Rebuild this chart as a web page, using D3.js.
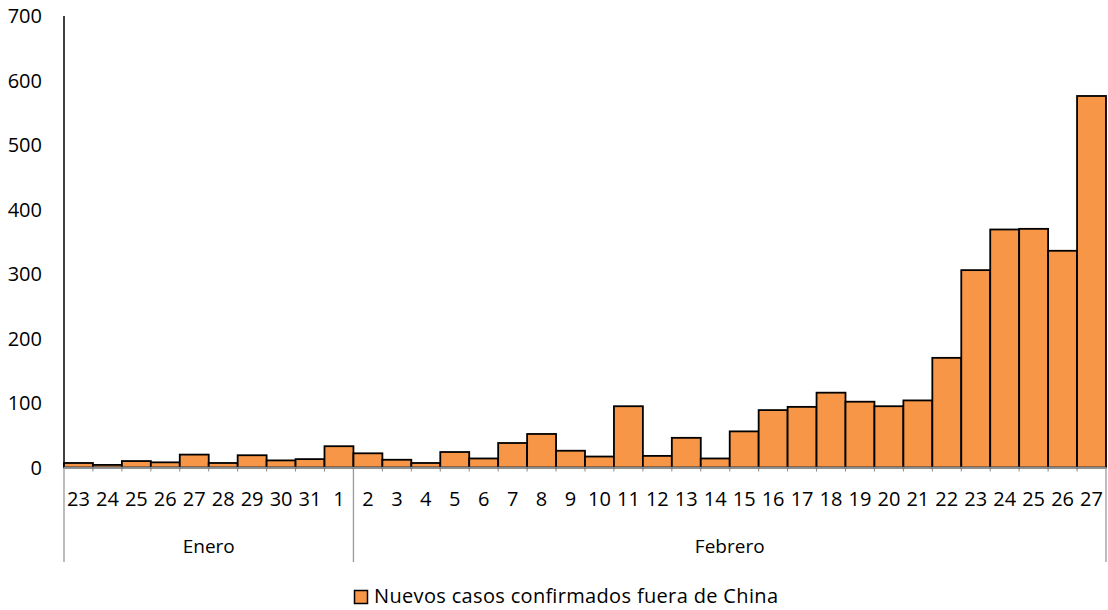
<!DOCTYPE html>
<html><head><meta charset="utf-8">
<script src="https://cdn.jsdelivr.net/npm/d3@7"></script>
<style>body{margin:0;background:#fff}svg{display:block}text{font-family:"Open Sans",sans-serif;fill:#000}</style>
</head><body>
<svg id="c" width="1108" height="610"></svg>
<script>
const days = ["23","24","25","26","27","28","29","30","31","1","2","3","4","5","6","7","8","9","10","11","12","13","14","15","16","17","18","19","20","21","22","23","24","25","26","27"];
const cases = [7,4,10,8,20,7,19,11,13,33,22,12,7,24,14,38,52,26,17,95,18,46,14,56,89,94,116,102,95,104,170,306,369,370,336,576];
const months = ["Enero","Febrero"];
const monthSpan = [10,26];
const yTicks = [0,100,200,300,400,500,600,700];
const seriesName = "Nuevos casos confirmados fuera de China";

const svg = d3.select("#c");
const L=64, R=1106, T=16, B=467.5;
const keys = days.map((d,i)=>i);
const x = d3.scaleBand().domain(keys).range([L,R]).padding(0);
const y = d3.scaleLinear().domain([0,700]).range([B,T]);

// y axis
svg.append("line").attr("x1",L).attr("x2",L).attr("y1",T).attr("y2",B).attr("stroke","#000").attr("stroke-width",1.5);
svg.selectAll(".yl").data(yTicks).enter().append("text")
  .attr("x",42).attr("y",d=>y(d)).attr("dy","0.36em").attr("text-anchor","end")
  .style("font-size","20px").text(d=>d);

// bars
svg.selectAll(".bar").data(cases).enter().append("rect")
  .attr("x",(d,i)=>x(i)).attr("width",x.bandwidth())
  .attr("y",d=>y(d)).attr("height",d=>B-y(d))
  .attr("fill","#F79646").attr("stroke","#000").attr("stroke-width",1.8);

// x axis baseline
svg.append("line").attr("x1",L).attr("x2",R).attr("y1",B).attr("y2",B).attr("stroke","#888").attr("stroke-width",1.5);
// minor ticks
svg.selectAll(".tk").data(d3.range(1,36)).enter().append("line")
  .attr("x1",i=>x(i)).attr("x2",i=>x(i)).attr("y1",B).attr("y2",B+4).attr("stroke","#888").attr("stroke-width",1);
// day labels
svg.selectAll(".xl").data(days).enter().append("text")
  .attr("x",(d,i)=>x(i)+x.bandwidth()/2).attr("y",506).attr("text-anchor","middle")
  .style("font-size","20px").text(d=>d);
// month groups
let acc=0; const bounds=[0];
monthSpan.forEach(s=>{acc+=s;bounds.push(acc);});
svg.selectAll(".sep").data(bounds).enter().append("line")
  .attr("x1",b=>b===36?R:x(b)).attr("x2",b=>b===36?R:x(b)).attr("y1",B).attr("y2",562)
  .attr("stroke","#999").attr("stroke-width",1.3);
svg.selectAll(".ml").data(months).enter().append("text")
  .attr("x",(m,i)=>{const a=x(bounds[i]); const b=bounds[i+1]===36?R:x(bounds[i+1]); return (a+b)/2;})
  .attr("y",553).attr("text-anchor","middle").style("font-size","19px").text(d=>d);

// legend
svg.append("rect").attr("x",354.5).attr("y",590.5).attr("width",13).attr("height",13)
  .attr("fill","#F79646").attr("stroke","#000").attr("stroke-width",1.5);
svg.append("text").attr("x",374).attr("y",603).style("font-size","20px")
  .attr("textLength",404).attr("lengthAdjust","spacing").text(seriesName);
</script>
</body></html>
